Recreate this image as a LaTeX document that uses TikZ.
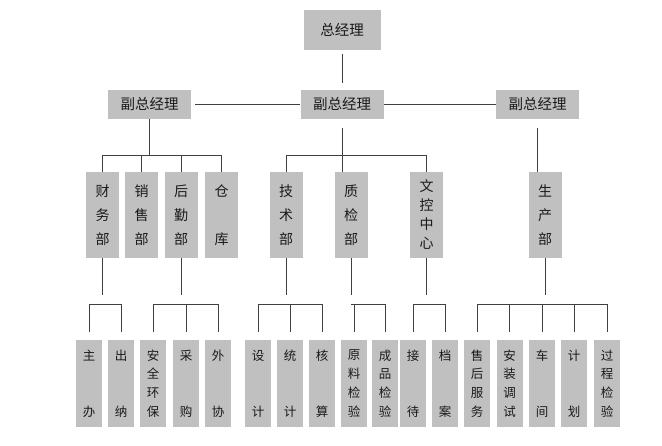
\documentclass[tikz,border=0pt]{standalone}
\usepackage{fontspec}
\usetikzlibrary{calc}
\newfontfamily\cjk{Noto Sans CJK SC}
\definecolor{BOX}{HTML}{C0C0C0}
\definecolor{LINE}{HTML}{404040}
\definecolor{TEXT}{HTML}{1A1A1A}

\begin{document}
\begin{tikzpicture}[x=1pt, y=-1pt,
    head/.style={fill=BOX, text=TEXT, inner sep=0pt, minimum width=83pt, minimum height=29pt, font=\cjk\fontsize{14.5}{17}\selectfont},
    dept/.style={fill=BOX, text=TEXT, inner sep=0pt, minimum width=33pt, minimum height=86pt, align=center, font=\cjk\fontsize{14}{24}\selectfont},
    unit/.style={fill=BOX, text=TEXT, inner sep=0pt, minimum width=26pt, minimum height=87pt, align=center, font=\cjk\fontsize{12.5}{18.7}\selectfont},
    wire/.style={LINE, line width=0.9pt}]
    \useasboundingbox (0,0) rectangle (662,446);

    \node[head, minimum width=77pt, minimum height=40pt] (gm) at (342,30) {总经理};
    \node[head] (vpL) at (149.5,104.5) {副总经理};
    \node[head] (vpM) at (342,104.5) {副总经理};
    \node[head] (vpR) at (537.5,104.5) {副总经理};

    \node[dept] (cw) at (102.5,215) {财\\务\\部};
    \node[dept] (xs) at (141.5,215) {销\\售\\部};
    \node[dept] (hq) at (181,215) {后\\勤\\部};
    \node[dept] (ck) at (221.5,215) {仓\\\mbox{}\\库};
    \node[dept] (js) at (286,215) {技\\术\\部};
    \node[dept] (zj) at (351,215) {质\\检\\部};
    \node[dept, font=\cjk\fontsize{14}{19}\selectfont] (wk) at (426.5,215) {文\\控\\中\\心};
    \node[dept] (sc) at (545,215) {生\\产\\部};

    \node[unit] (zb) at (89,383.5) {主\\\mbox{}\\\mbox{}\\办};
    \node[unit] (cn) at (121,383.5) {出\\\mbox{}\\\mbox{}\\纳};
    \node[unit] (aq) at (153,383.5) {安\\全\\环\\保};
    \node[unit] (cg) at (186,383.5) {采\\\mbox{}\\\mbox{}\\购};
    \node[unit] (wx) at (218,383.5) {外\\\mbox{}\\\mbox{}\\协};
    \node[unit] (sj) at (258,383.5) {设\\\mbox{}\\\mbox{}\\计};
    \node[unit] (tj) at (290,383.5) {统\\\mbox{}\\\mbox{}\\计};
    \node[unit] (hs) at (322,383.5) {核\\\mbox{}\\\mbox{}\\算};
    \node[unit] (yl) at (354,383.5) {原\\料\\检\\验};
    \node[unit] (cp) at (385,383.5) {成\\品\\检\\验};
    \node[unit] (jd) at (413,383.5) {接\\\mbox{}\\\mbox{}\\待};
    \node[unit] (da) at (445,383.5) {档\\\mbox{}\\\mbox{}\\案};
    \node[unit] (sh) at (477,383.5) {售\\后\\服\\务};
    \node[unit] (az) at (509.5,383.5) {安\\装\\调\\试};
    \node[unit] (cj) at (542,383.5) {车\\\mbox{}\\\mbox{}\\间};
    \node[unit] (jh) at (574,383.5) {计\\\mbox{}\\\mbox{}\\划};
    \node[unit] (gc) at (607,383.5) {过\\程\\检\\验};

    \draw[wire, shorten <=4pt, shorten >=7pt] (gm) -- (vpM);
    \draw[wire, shorten <=4pt] (vpL) -- (vpM);
    \draw[wire] (vpM) -- (vpR);

    \coordinate (vpL-bus) at (vpL.south |- 0,155);
    \coordinate (vpM-bus) at (vpM.south |- 0,155);
    \draw[wire] (vpL) -- (vpL-bus);
    \draw[wire] (vpL-bus) -| (cw);
    \draw[wire] (vpL-bus) -| (xs);
    \draw[wire] (vpL-bus) -| (hq);
    \draw[wire] (vpL-bus) -| (ck);
    \draw[wire, shorten <=9pt] (vpM) -- (vpM |- zj.north);
    \draw[wire] (vpM-bus) -| (js);
    \draw[wire] (vpM-bus) -| (wk);
    \draw[wire, shorten <=9pt] (vpR) -- (vpR |- sc.north);

    \coordinate (cw-bus) at (cw.south |- 0,304);
    \coordinate (hq-bus) at (hq.south |- 0,304);
    \coordinate (js-bus) at (js.south |- 0,304);
    \coordinate (zj-bus) at (zj.south |- 0,304);
    \coordinate (wk-bus) at (wk.south |- 0,304);
    \coordinate (sc-bus) at (sc.south |- 0,304);
    \draw[wire, shorten >=9pt] (cw) -- (cw-bus);
    \draw[wire, shorten >=9pt] (hq) -- (hq-bus);
    \draw[wire, shorten >=9pt] (js) -- (js-bus);
    \draw[wire, shorten >=9pt] (zj) -- (zj-bus);
    \draw[wire, shorten >=9pt] (wk) -- (wk-bus);
    \draw[wire, shorten >=9pt] (sc) -- (sc-bus);
    \draw[wire, shorten >=8pt] (cw-bus) -| (zb);
    \draw[wire, shorten >=8pt] (cw-bus) -| (cn);
    \draw[wire, shorten >=8pt] (hq-bus) -| (aq);
    \draw[wire, shorten >=8pt] (hq-bus) -| (cg);
    \draw[wire, shorten >=8pt] (hq-bus) -| (wx);
    \draw[wire, shorten >=8pt] (js-bus) -| (sj);
    \draw[wire, shorten >=8pt] (js-bus) -| (tj);
    \draw[wire, shorten >=8pt] (js-bus) -| (hs);
    \draw[wire, shorten >=8pt] (zj-bus) -| (yl);
    \draw[wire, shorten >=8pt] (zj-bus) -| (cp);
    \draw[wire, shorten >=8pt] (wk-bus) -| (jd);
    \draw[wire, shorten >=8pt] (wk-bus) -| (da);
    \draw[wire, shorten >=8pt] (sc-bus) -| (sh);
    \draw[wire, shorten >=8pt] (sc-bus) -| (az);
    \draw[wire, shorten >=8pt] (sc-bus) -| (cj);
    \draw[wire, shorten >=8pt] (sc-bus) -| (jh);
    \draw[wire, shorten >=8pt] (sc-bus) -| (gc);
\end{tikzpicture}
\end{document}
